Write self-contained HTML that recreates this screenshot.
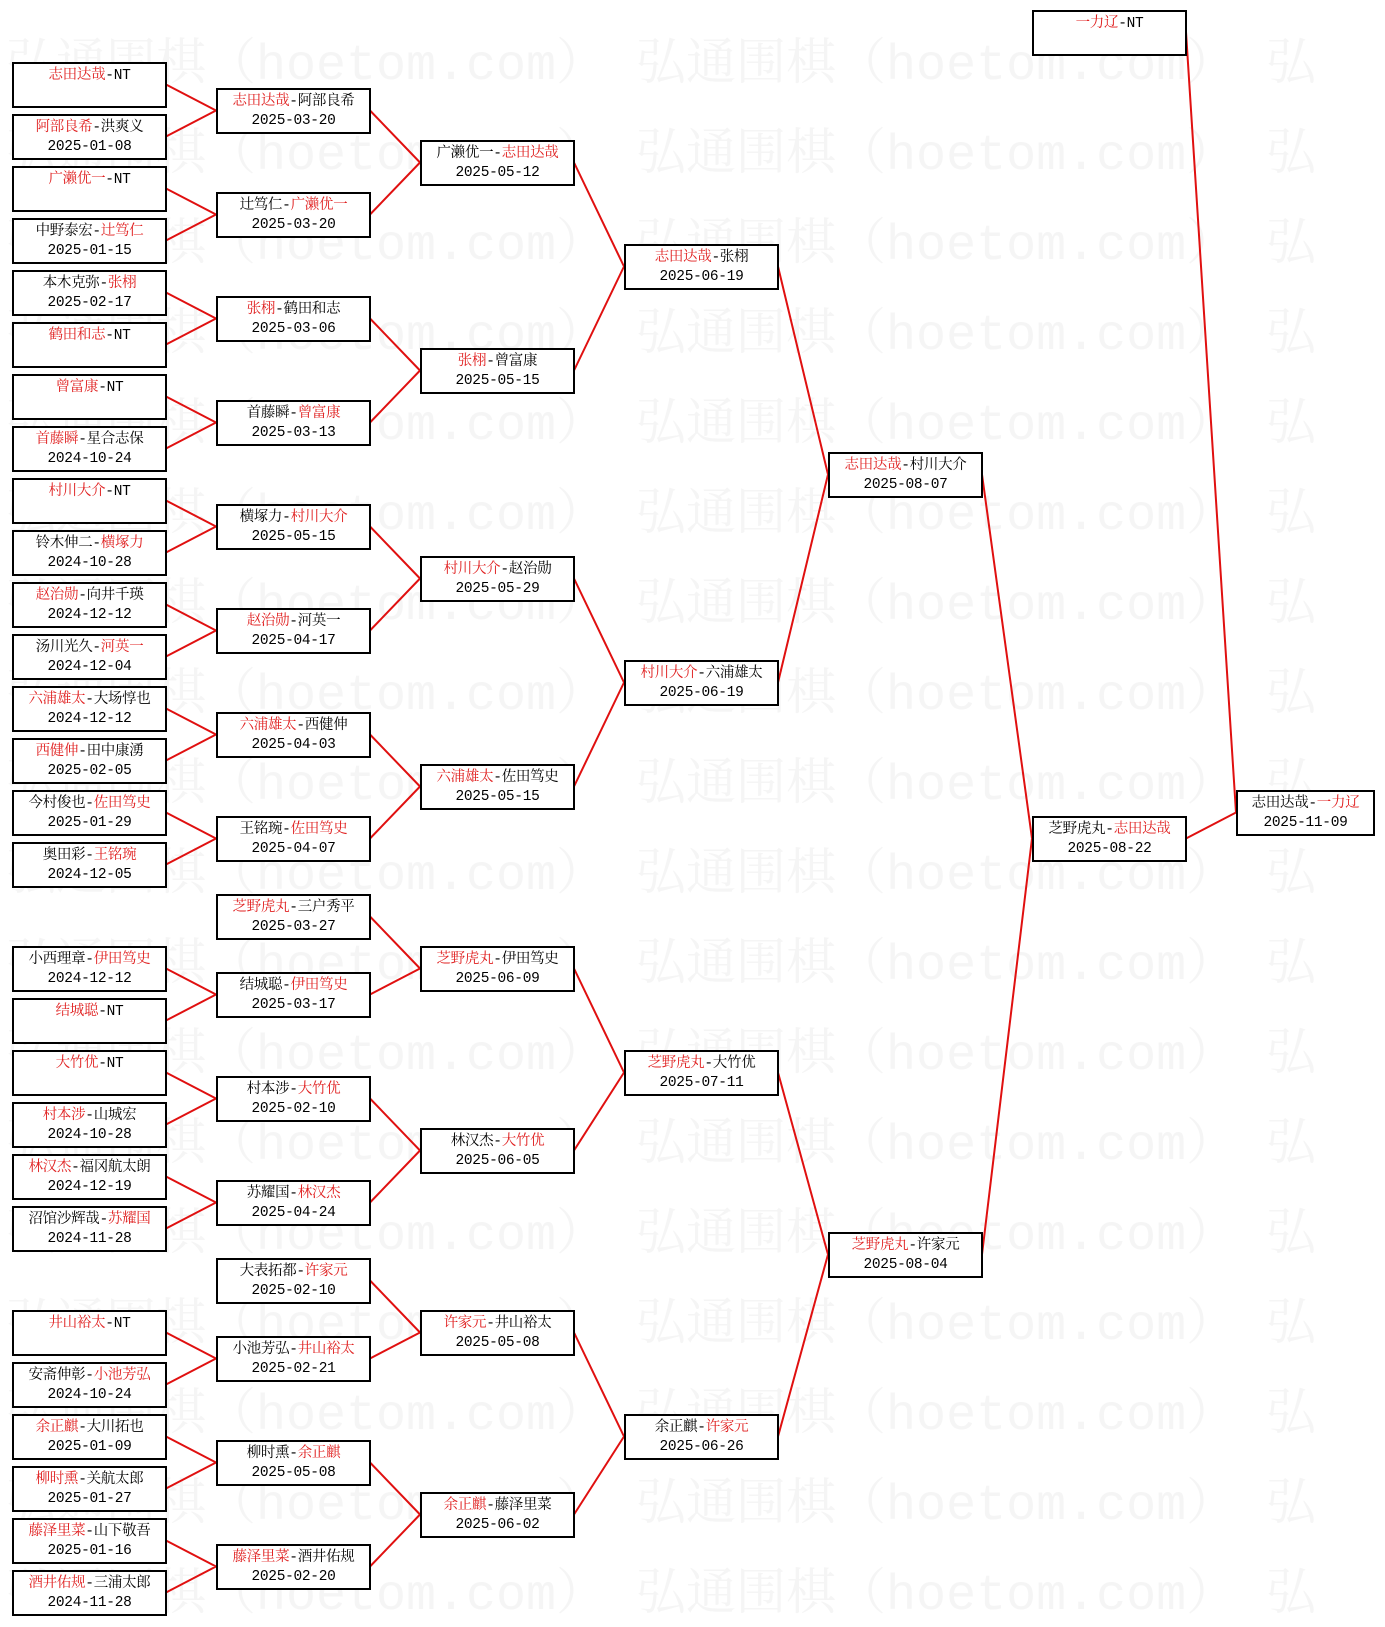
<!DOCTYPE html>
<html><head><meta charset="utf-8"><style>
body{margin:0;width:1385px;height:1625px;background:#fff;position:relative;overflow:hidden;font-family:"Liberation Mono","Noto Serif CJK SC",serif}
.wm{position:absolute;left:6px;white-space:nowrap;font-size:50px;color:#f5f5f5;line-height:60px;font-family:"Liberation Mono","Noto Serif CJK SC",serif}
.b{position:absolute;box-sizing:border-box;width:155px;height:46px;border:2px solid #000;background:#fff;text-align:center;font-size:14.5px;line-height:19px;padding-top:3px;color:#000;white-space:nowrap;letter-spacing:-0.3px}
.r{color:#e02020}
.c1{left:12px}.c2{left:216px}.c3{left:420px}.c4{left:624px}.c5{left:828px}.c6{left:1032px}.c7{left:1236px;width:139px}
svg{position:absolute;left:0;top:0}
</style></head><body>
<div class="wm" style="top:37px">弘通围棋（hoetom.com） 弘通围棋（hoetom.com） 弘</div>
<div class="wm" style="top:127px">弘通围棋（hoetom.com） 弘通围棋（hoetom.com） 弘</div>
<div class="wm" style="top:217px">弘通围棋（hoetom.com） 弘通围棋（hoetom.com） 弘</div>
<div class="wm" style="top:307px">弘通围棋（hoetom.com） 弘通围棋（hoetom.com） 弘</div>
<div class="wm" style="top:397px">弘通围棋（hoetom.com） 弘通围棋（hoetom.com） 弘</div>
<div class="wm" style="top:487px">弘通围棋（hoetom.com） 弘通围棋（hoetom.com） 弘</div>
<div class="wm" style="top:577px">弘通围棋（hoetom.com） 弘通围棋（hoetom.com） 弘</div>
<div class="wm" style="top:667px">弘通围棋（hoetom.com） 弘通围棋（hoetom.com） 弘</div>
<div class="wm" style="top:757px">弘通围棋（hoetom.com） 弘通围棋（hoetom.com） 弘</div>
<div class="wm" style="top:847px">弘通围棋（hoetom.com） 弘通围棋（hoetom.com） 弘</div>
<div class="wm" style="top:937px">弘通围棋（hoetom.com） 弘通围棋（hoetom.com） 弘</div>
<div class="wm" style="top:1027px">弘通围棋（hoetom.com） 弘通围棋（hoetom.com） 弘</div>
<div class="wm" style="top:1117px">弘通围棋（hoetom.com） 弘通围棋（hoetom.com） 弘</div>
<div class="wm" style="top:1207px">弘通围棋（hoetom.com） 弘通围棋（hoetom.com） 弘</div>
<div class="wm" style="top:1297px">弘通围棋（hoetom.com） 弘通围棋（hoetom.com） 弘</div>
<div class="wm" style="top:1387px">弘通围棋（hoetom.com） 弘通围棋（hoetom.com） 弘</div>
<div class="wm" style="top:1477px">弘通围棋（hoetom.com） 弘通围棋（hoetom.com） 弘</div>
<div class="wm" style="top:1567px">弘通围棋（hoetom.com） 弘通围棋（hoetom.com） 弘</div>

<svg width="1385" height="1625">
<g transform="translate(0,84.5) scale(1,52)" stroke="#e01010" stroke-width="2" fill="none">
<path vector-effect="non-scaling-stroke" d="
M166 0L216 .5M166 1L216 .5M166 2L216 2.5M166 3L216 2.5M166 4L216 4.5M166 5L216 4.5M166 6L216 6.5M166 7L216 6.5
M166 8L216 8.5M166 9L216 8.5M166 10L216 10.5M166 11L216 10.5M166 12L216 12.5M166 13L216 12.5M166 14L216 14.5M166 15L216 14.5
M166 17L216 17.5M166 18L216 17.5M166 19L216 19.5M166 20L216 19.5M166 21L216 21.5M166 22L216 21.5
M166 24L216 24.5M166 25L216 24.5M166 26L216 26.5M166 27L216 26.5M166 28L216 28.5M166 29L216 28.5
M370 .5L420 1.5M370 2.5L420 1.5M370 4.5L420 5.5M370 6.5L420 5.5M370 8.5L420 9.5M370 10.5L420 9.5M370 12.5L420 13.5M370 14.5L420 13.5
M370 16L420 17M370 17.5L420 17M370 19.5L420 20.5M370 21.5L420 20.5M370 23L420 24M370 24.5L420 24M370 26.5L420 27.5M370 28.5L420 27.5
M574 1.5L624 3.5M574 5.5L624 3.5M574 9.5L624 11.5M574 13.5L624 11.5M574 17L624 19M574 20.5L624 19M574 24L624 26M574 27.5L624 26
M778 3.5L828 7.5M778 11.5L828 7.5M778 19L828 22.5M778 26L828 22.5
M982 7.5L1032 14.5M982 22.5L1032 14.5M1186 14.5L1236 14
M1186 -1.0096L1236 14"/>
</g>
</svg>

<div class="b c6" style="top:10px"><span class="r">一力辽</span>-NT</div>

<div class="b c1" style="top:62px"><span class="r">志田达哉</span>-NT</div>
<div class="b c1" style="top:114px"><span class="r">阿部良希</span>-洪爽义<br>2025-01-08</div>
<div class="b c1" style="top:166px"><span class="r">广濑优一</span>-NT</div>
<div class="b c1" style="top:218px">中野泰宏-<span class="r">辻笃仁</span><br>2025-01-15</div>
<div class="b c1" style="top:270px">本木克弥-<span class="r">张栩</span><br>2025-02-17</div>
<div class="b c1" style="top:322px"><span class="r">鹤田和志</span>-NT</div>
<div class="b c1" style="top:374px"><span class="r">曾富康</span>-NT</div>
<div class="b c1" style="top:426px"><span class="r">首藤瞬</span>-星合志保<br>2024-10-24</div>
<div class="b c1" style="top:478px"><span class="r">村川大介</span>-NT</div>
<div class="b c1" style="top:530px">铃木伸二-<span class="r">横塚力</span><br>2024-10-28</div>
<div class="b c1" style="top:582px"><span class="r">赵治勋</span>-向井千瑛<br>2024-12-12</div>
<div class="b c1" style="top:634px">汤川光久-<span class="r">河英一</span><br>2024-12-04</div>
<div class="b c1" style="top:686px"><span class="r">六浦雄太</span>-大场惇也<br>2024-12-12</div>
<div class="b c1" style="top:738px"><span class="r">西健伸</span>-田中康湧<br>2025-02-05</div>
<div class="b c1" style="top:790px">今村俊也-<span class="r">佐田笃史</span><br>2025-01-29</div>
<div class="b c1" style="top:842px">奥田彩-<span class="r">王铭琬</span><br>2024-12-05</div>
<div class="b c1" style="top:946px">小西理章-<span class="r">伊田笃史</span><br>2024-12-12</div>
<div class="b c1" style="top:998px"><span class="r">结城聪</span>-NT</div>
<div class="b c1" style="top:1050px"><span class="r">大竹优</span>-NT</div>
<div class="b c1" style="top:1102px"><span class="r">村本涉</span>-山城宏<br>2024-10-28</div>
<div class="b c1" style="top:1154px"><span class="r">林汉杰</span>-福冈航太朗<br>2024-12-19</div>
<div class="b c1" style="top:1206px">沼馆沙辉哉-<span class="r">苏耀国</span><br>2024-11-28</div>
<div class="b c1" style="top:1310px"><span class="r">井山裕太</span>-NT</div>
<div class="b c1" style="top:1362px">安斋伸彰-<span class="r">小池芳弘</span><br>2024-10-24</div>
<div class="b c1" style="top:1414px"><span class="r">余正麒</span>-大川拓也<br>2025-01-09</div>
<div class="b c1" style="top:1466px"><span class="r">柳时熏</span>-关航太郎<br>2025-01-27</div>
<div class="b c1" style="top:1518px"><span class="r">藤泽里菜</span>-山下敬吾<br>2025-01-16</div>
<div class="b c1" style="top:1570px"><span class="r">酒井佑规</span>-三浦太郎<br>2024-11-28</div>

<div class="b c2" style="top:88px"><span class="r">志田达哉</span>-阿部良希<br>2025-03-20</div>
<div class="b c2" style="top:192px">辻笃仁-<span class="r">广濑优一</span><br>2025-03-20</div>
<div class="b c2" style="top:296px"><span class="r">张栩</span>-鹤田和志<br>2025-03-06</div>
<div class="b c2" style="top:400px">首藤瞬-<span class="r">曾富康</span><br>2025-03-13</div>
<div class="b c2" style="top:504px">横塚力-<span class="r">村川大介</span><br>2025-05-15</div>
<div class="b c2" style="top:608px"><span class="r">赵治勋</span>-河英一<br>2025-04-17</div>
<div class="b c2" style="top:712px"><span class="r">六浦雄太</span>-西健伸<br>2025-04-03</div>
<div class="b c2" style="top:816px">王铭琬-<span class="r">佐田笃史</span><br>2025-04-07</div>
<div class="b c2" style="top:894px"><span class="r">芝野虎丸</span>-三户秀平<br>2025-03-27</div>
<div class="b c2" style="top:972px">结城聪-<span class="r">伊田笃史</span><br>2025-03-17</div>
<div class="b c2" style="top:1076px">村本涉-<span class="r">大竹优</span><br>2025-02-10</div>
<div class="b c2" style="top:1180px">苏耀国-<span class="r">林汉杰</span><br>2025-04-24</div>
<div class="b c2" style="top:1258px">大表拓都-<span class="r">许家元</span><br>2025-02-10</div>
<div class="b c2" style="top:1336px">小池芳弘-<span class="r">井山裕太</span><br>2025-02-21</div>
<div class="b c2" style="top:1440px">柳时熏-<span class="r">余正麒</span><br>2025-05-08</div>
<div class="b c2" style="top:1544px"><span class="r">藤泽里菜</span>-酒井佑规<br>2025-02-20</div>

<div class="b c3" style="top:140px">广濑优一-<span class="r">志田达哉</span><br>2025-05-12</div>
<div class="b c3" style="top:348px"><span class="r">张栩</span>-曾富康<br>2025-05-15</div>
<div class="b c3" style="top:556px"><span class="r">村川大介</span>-赵治勋<br>2025-05-29</div>
<div class="b c3" style="top:764px"><span class="r">六浦雄太</span>-佐田笃史<br>2025-05-15</div>
<div class="b c3" style="top:946px"><span class="r">芝野虎丸</span>-伊田笃史<br>2025-06-09</div>
<div class="b c3" style="top:1128px">林汉杰-<span class="r">大竹优</span><br>2025-06-05</div>
<div class="b c3" style="top:1310px"><span class="r">许家元</span>-井山裕太<br>2025-05-08</div>
<div class="b c3" style="top:1492px"><span class="r">余正麒</span>-藤泽里菜<br>2025-06-02</div>

<div class="b c4" style="top:244px"><span class="r">志田达哉</span>-张栩<br>2025-06-19</div>
<div class="b c4" style="top:660px"><span class="r">村川大介</span>-六浦雄太<br>2025-06-19</div>
<div class="b c4" style="top:1050px"><span class="r">芝野虎丸</span>-大竹优<br>2025-07-11</div>
<div class="b c4" style="top:1414px">余正麒-<span class="r">许家元</span><br>2025-06-26</div>

<div class="b c5" style="top:452px"><span class="r">志田达哉</span>-村川大介<br>2025-08-07</div>
<div class="b c5" style="top:1232px"><span class="r">芝野虎丸</span>-许家元<br>2025-08-04</div>

<div class="b c6" style="top:816px">芝野虎丸-<span class="r">志田达哉</span><br>2025-08-22</div>
<div class="b c7" style="top:790px">志田达哉-<span class="r">一力辽</span><br>2025-11-09</div>
</body></html>
